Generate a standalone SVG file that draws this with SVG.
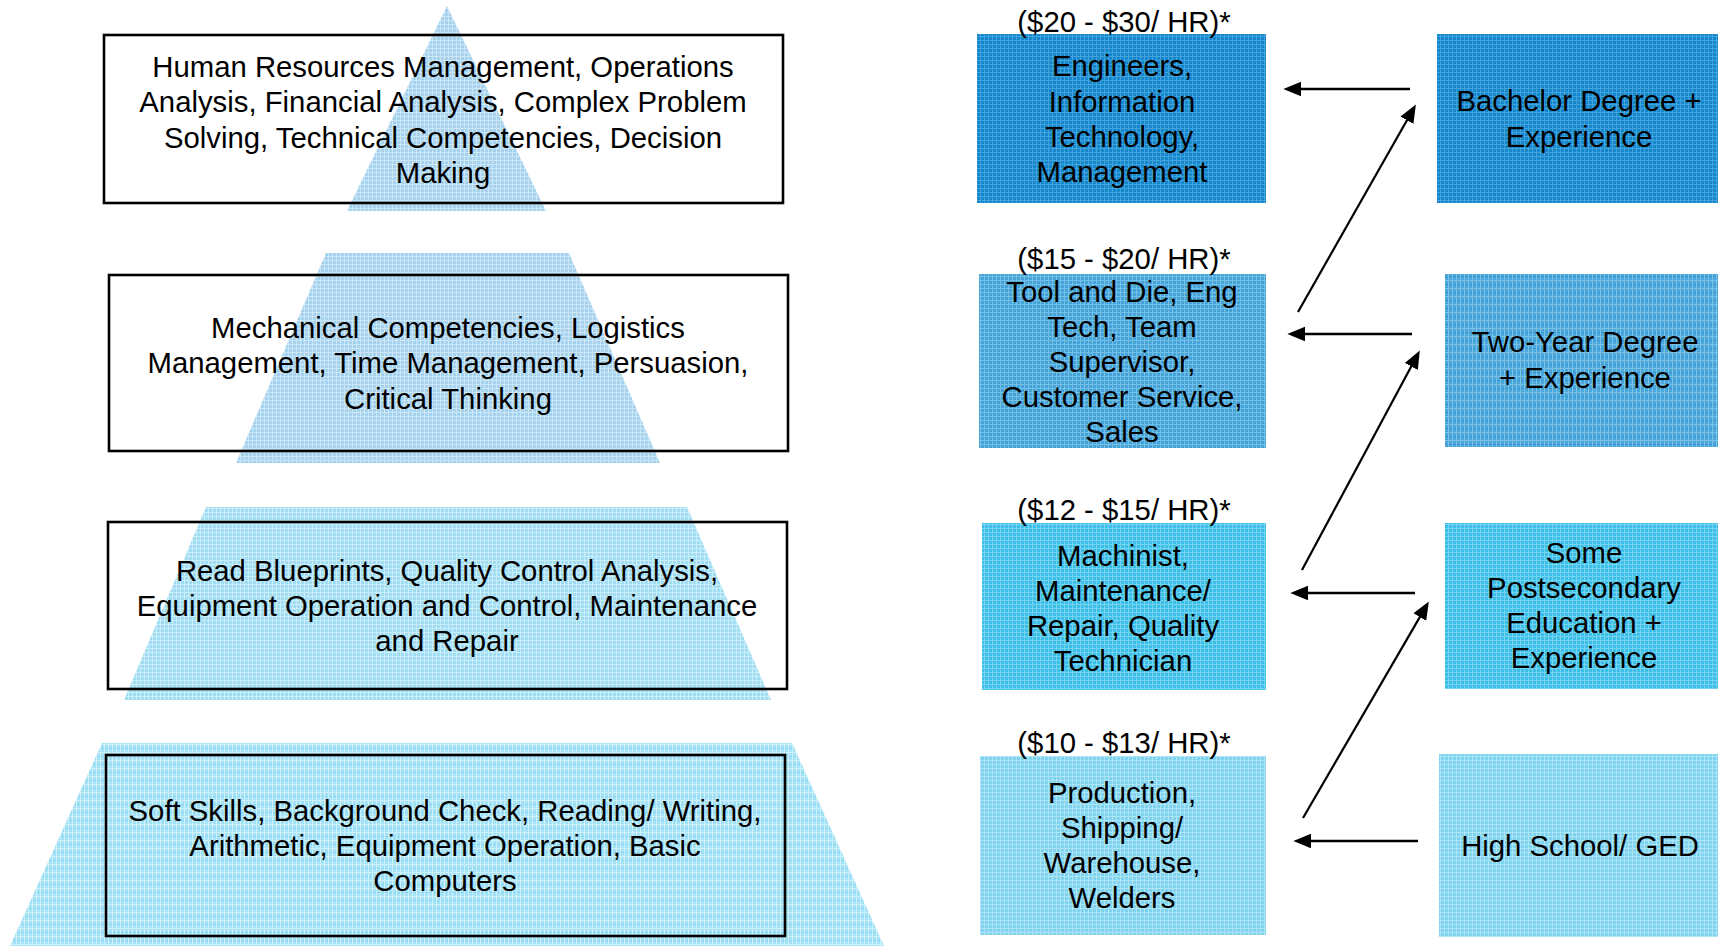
<svg xmlns="http://www.w3.org/2000/svg" width="1718" height="946" viewBox="0 0 1718 946">
<style>
text{font-family:"Liberation Sans",Arial,sans-serif;font-size:29.3px;fill:#000;text-anchor:middle}
.box{fill:none;stroke:#000;stroke-width:2.6}
.harr{stroke:#000;stroke-width:2.6;fill:none;marker-end:url(#ah)}
.darr{stroke:#000;stroke-width:2.2;fill:none;marker-end:url(#ah)}
</style>
<defs>
<pattern id="pPyr" width="4" height="4" patternUnits="userSpaceOnUse"><rect width="4" height="4" fill="#a6d2ee"/><rect width="4" height="1" fill="#cbe6f6"/><rect width="1" height="4" fill="#cbe6f6"/></pattern>
<pattern id="pPyr3" width="4" height="4" patternUnits="userSpaceOnUse"><rect width="4" height="4" fill="#a2dcf3"/><rect width="4" height="1" fill="#c8eef9"/><rect width="1" height="4" fill="#c8eef9"/></pattern>
<pattern id="pPyr4" width="4" height="8" patternUnits="userSpaceOnUse"><rect width="4" height="8" fill="#a6e2f5"/><rect width="4" height="1" fill="#cdf1fa"/><rect y="4" width="4" height="1" fill="#8fd8f1"/><rect width="1" height="8" fill="#cdf1fa"/></pattern>
<pattern id="pE" width="4" height="4" patternUnits="userSpaceOnUse"><rect width="4" height="4" fill="#1687cb"/><rect width="4" height="1" fill="#40a3dd"/><rect width="1" height="4" fill="#40a3dd"/></pattern>
<pattern id="pT" width="4" height="4" patternUnits="userSpaceOnUse"><rect width="4" height="4" fill="#45a3d8"/><rect width="4" height="1" fill="#72bfe7"/><rect width="1" height="4" fill="#72bfe7"/></pattern>
<pattern id="pT2" width="4" height="8" patternUnits="userSpaceOnUse"><rect width="4" height="8" fill="#4ca7da"/><rect width="4" height="1" fill="#78c2e8"/><rect y="4" width="4" height="1" fill="#3a98d0"/><rect width="1" height="8" fill="#78c2e8"/></pattern>
<pattern id="pM" width="4" height="4" patternUnits="userSpaceOnUse"><rect width="4" height="4" fill="#3cbfe6"/><rect width="4" height="1" fill="#74d3f0"/><rect width="1" height="4" fill="#74d3f0"/></pattern>
<pattern id="pP" width="4" height="4" patternUnits="userSpaceOnUse"><rect width="4" height="4" fill="#80d3ef"/><rect width="4" height="1" fill="#ace5f6"/><rect width="1" height="4" fill="#ace5f6"/></pattern>
<marker id="ah" markerUnits="userSpaceOnUse" markerWidth="18" markerHeight="16" viewBox="0 0 17 14" refX="6" refY="7" orient="auto"><path d="M0,0 L17,7 L0,14 z" fill="#000"/></marker>
</defs>
<g id="pyramid">
<polygon points="447,6 546,211 347,211" fill="url(#pPyr)"/>
<polygon points="326,253 569,253 660,463 236,463" fill="url(#pPyr)"/>
<polygon points="206,507 687,507 771,700 124,700" fill="url(#pPyr3)"/>
<polygon points="102,743 792,743 884,946 10,946" fill="url(#pPyr4)"/>
</g>
<g id="skill1">
<rect class="box" x="104" y="35" width="679" height="168"/>
<text x="443" y="77">Human Resources Management, Operations</text>
<text x="443" y="112.3">Analysis, Financial Analysis, Complex Problem</text>
<text x="443" y="147.6">Solving, Technical Competencies, Decision</text>
<text x="443" y="183">Making</text>
</g>
<g id="skill2">
<rect class="box" x="109" y="275" width="679" height="176"/>
<text x="448" y="338">Mechanical Competencies, Logistics</text>
<text x="448" y="373">Management, Time Management, Persuasion,</text>
<text x="448" y="409">Critical Thinking</text>
</g>
<g id="skill3">
<rect class="box" x="108" y="522" width="679" height="167"/>
<text x="447" y="581">Read Blueprints, Quality Control Analysis,</text>
<text x="447" y="616">Equipment Operation and Control, Maintenance</text>
<text x="447" y="651">and Repair</text>
</g>
<g id="skill4">
<rect class="box" x="106" y="755" width="679" height="181"/>
<text x="445" y="821">Soft Skills, Background Check, Reading/ Writing,</text>
<text x="445" y="856">Arithmetic, Equipment Operation, Basic</text>
<text x="445" y="891">Computers</text>
</g>
<g id="job1">
<rect x="977" y="34" width="289" height="169" fill="url(#pE)"/>
<text x="1124" y="32">($20 - $30/ HR)*</text>
<text x="1122" y="76">Engineers,</text>
<text x="1122" y="111.5">Information</text>
<text x="1122" y="147">Technology,</text>
<text x="1122" y="182">Management</text>
</g>
<g id="job2">
<rect x="979" y="274" width="287" height="174" fill="url(#pT)"/>
<text x="1124" y="269">($15 - $20/ HR)*</text>
<text x="1122" y="302">Tool and Die, Eng</text>
<text x="1122" y="337">Tech, Team</text>
<text x="1122" y="372">Supervisor,</text>
<text x="1122" y="407">Customer Service,</text>
<text x="1122" y="442">Sales</text>
</g>
<g id="job3">
<rect x="982" y="523" width="284" height="167" fill="url(#pM)"/>
<text x="1124" y="520">($12 - $15/ HR)*</text>
<text x="1123" y="565.5">Machinist,</text>
<text x="1123" y="600.5">Maintenance/</text>
<text x="1123" y="635.5">Repair, Quality</text>
<text x="1123" y="670.5">Technician</text>
</g>
<g id="job4">
<rect x="980" y="756" width="286" height="179" fill="url(#pP)"/>
<text x="1124" y="753">($10 - $13/ HR)*</text>
<text x="1122" y="803">Production,</text>
<text x="1122" y="838">Shipping/</text>
<text x="1122" y="873">Warehouse,</text>
<text x="1122" y="908">Welders</text>
</g>
<g id="edu1">
<rect x="1437" y="34" width="285" height="169" fill="url(#pE)"/>
<text x="1579" y="111">Bachelor Degree +</text>
<text x="1579" y="147">Experience</text>
</g>
<g id="edu2">
<rect x="1445" y="274" width="280" height="173" fill="url(#pT2)"/>
<text x="1585" y="352">Two-Year Degree</text>
<text x="1585" y="388">+ Experience</text>
</g>
<g id="edu3">
<rect x="1445" y="523" width="280" height="166" fill="url(#pM)"/>
<text x="1584" y="563">Some</text>
<text x="1584" y="598">Postsecondary</text>
<text x="1584" y="633">Education +</text>
<text x="1584" y="668">Experience</text>
</g>
<g id="edu4">
<rect x="1439" y="754" width="283" height="183" fill="url(#pP)"/>
<text x="1580" y="856">High School/ GED</text>
</g>
<g id="connectors">
<line class="harr" x1="1410" y1="89" x2="1295" y2="89"/>
<line class="harr" x1="1412" y1="334" x2="1299" y2="334"/>
<line class="harr" x1="1415" y1="593" x2="1302" y2="593"/>
<line class="harr" x1="1418" y1="841" x2="1305" y2="841"/>
<line class="darr" x1="1298" y1="312" x2="1410.1" y2="114.7"/>
<line class="darr" x1="1302" y1="570" x2="1414.3" y2="360.8"/>
<line class="darr" x1="1303" y1="818" x2="1423" y2="611.6"/>
</g>
</svg>
